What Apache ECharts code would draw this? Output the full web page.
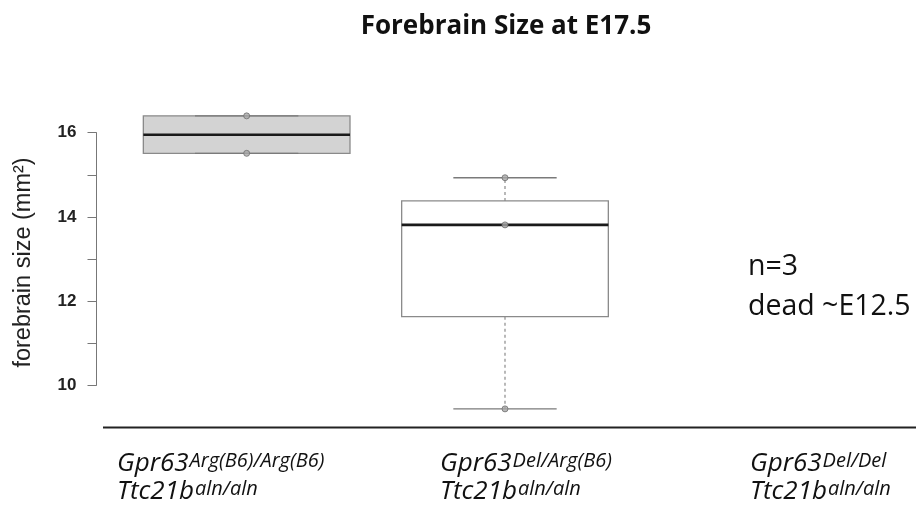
<!DOCTYPE html>
<html>
<head>
<meta charset="utf-8">
<script src="https://cdn.jsdelivr.net/npm/echarts@6/dist/echarts.min.js"></script>
<style>
  html, body { margin: 0; padding: 0; background: #fff; }
  #chart { width: 916px; height: 516px; }
</style>
</head>
<body>
<div id="chart"></div>
<script>
// ---------------- data
const categories = ['g1', 'g2', 'g3'];
const gprSup = ['Arg(B6)/Arg(B6)', 'Del/Arg(B6)', 'Del/Del'];
const ttcSup = ['aln/aln', 'aln/aln', 'aln/aln'];
// box stats for the two measured groups (third group: no data)
const lowWhisker = [15.51, 9.44];
const lowerHinge = [15.51, 11.63];
const medians = [15.95, 13.81];
const upperHinge = [16.40, 14.38];
const highWhisker = [16.40, 14.93];
// individual measurements
const group1Points = [15.51, 16.40];
const group2Points = [9.44, 13.81, 14.93];
const yLabelTicks = [10, 12, 14, 16];
const noteLines = ['n=3', 'dead ~E12.5'];

const chart = echarts.init(document.getElementById('chart'), null, { renderer: 'canvas' });

const FONT = '"Open Sans", sans-serif';
// plot geometry
const plotLeft = 117.5, plotRight = 23.5;
const pxPerUnit = 42.1;
const y16 = 132.7;

const boxData = lowWhisker.map((v, i) => [i, v, lowerHinge[i], medians[i], upperHinge[i], highWhisker[i]]);
const pointData = [];
group1Points.forEach(v => pointData.push([0, v]));
group2Points.forEach(v => pointData.push([1, v]));

function renderBox(params, api) {
    const idx = api.value(0);
    const band = api.size([1, 0])[0];
    const cx = api.coord([idx, api.value(3)])[0];
    const yLow = api.coord([idx, api.value(1)])[1];
    const yQ1 = api.coord([idx, api.value(2)])[1];
    const yMed = api.coord([idx, api.value(3)])[1];
    const yQ3 = api.coord([idx, api.value(4)])[1];
    const yHigh = api.coord([idx, api.value(5)])[1];
    const bw = band * 0.8, cw = band * 0.4;
    const grey = '#8a8a8a';
    return {
        type: 'group',
        children: [
            { type: 'rect', shape: { x: cx - bw / 2, y: yQ3, width: bw, height: yQ1 - yQ3 },
              style: { fill: idx === 0 ? '#d3d3d3' : '#ffffff', stroke: grey, lineWidth: 1.3 } },
            { type: 'line', shape: { x1: cx, y1: yQ3, x2: cx, y2: yHigh },
              style: { stroke: grey, lineWidth: 1.2, lineDash: [3, 3] } },
            { type: 'line', shape: { x1: cx, y1: yQ1, x2: cx, y2: yLow },
              style: { stroke: grey, lineWidth: 1.2, lineDash: [3, 3] } },
            { type: 'line', shape: { x1: cx - cw / 2, y1: yHigh, x2: cx + cw / 2, y2: yHigh },
              style: { stroke: '#7a7a7a', lineWidth: 1.4 } },
            { type: 'line', shape: { x1: cx - cw / 2, y1: yLow, x2: cx + cw / 2, y2: yLow },
              style: { stroke: '#7a7a7a', lineWidth: 1.4 } },
            { type: 'line', shape: { x1: cx - bw / 2, y1: yMed, x2: cx + bw / 2, y2: yMed },
              style: { stroke: '#1a1a1a', lineWidth: 2.6 } }
        ]
    };
}

const option = {
    animation: false,
    grid: [
        { left: plotLeft, right: plotRight, top: y16 - pxPerUnit, height: pxPerUnit * 8 },
        { left: plotLeft, right: plotRight, top: y16, height: pxPerUnit * 6 }
    ],
    xAxis: [
        { type: 'category', data: categories, gridIndex: 0, show: false },
        { type: 'category', data: categories, gridIndex: 1, show: false }
    ],
    yAxis: [
        { type: 'value', gridIndex: 0, min: 9, max: 17, show: false },
        {
            type: 'value', gridIndex: 1, min: 10, max: 16, interval: 1, offset: 21,
            axisLine: { show: true, lineStyle: { color: '#777', width: 1 } },
            axisTick: { show: true, length: 9, lineStyle: { color: '#777' } },
            splitLine: { show: false },
            axisLabel: {
                margin: 20, color: '#222', fontSize: 17, fontWeight: 'bold',
                fontFamily: '"Liberation Sans", Arial, sans-serif',
                formatter: v => yLabelTicks.indexOf(v) >= 0 ? String(v) : ''
            }
        }
    ],
    series: [
        {
            type: 'custom', xAxisIndex: 0, yAxisIndex: 0,
            renderItem: renderBox, data: boxData,
            encode: { x: 0, y: [1, 2, 3, 4, 5] }
        },
        {
            type: 'scatter', xAxisIndex: 0, yAxisIndex: 0, data: pointData,
            symbol: 'circle', symbolSize: 6,
            itemStyle: { color: '#a8a8a8', borderColor: '#6f6f6f', borderWidth: 1 },
            z: 5
        }
    ]
};
chart.setOption(option);

// decorations: title, axis title, baseline, genotype labels, note
const baseY = chart.convertToPixel({ yAxisIndex: 0 }, 9);
const labelLeft = [117, 440, 750];
const mainSize = 26, supSize = 20;
const ctx = document.createElement('canvas').getContext('2d');
function textWidth(str, size) {
    ctx.font = 'italic ' + size + 'px ' + FONT;
    return ctx.measureText(str).width;
}
// y is the text middle; alphabetic baseline sits ~0.388em lower for Open Sans
const mid = (baseline, size) => baseline - 0.388 * size;

const graphics = [
    { type: 'text', style: { text: 'Forebrain Size at E17.5', x: 506, y: mid(37, 26), textAlign: 'center', textVerticalAlign: 'middle',
        fontSize: 26, fontWeight: 'bold', fontFamily: FONT, fill: '#111' } },
    { type: 'text', rotation: Math.PI / 2, x: 24, y: (chart.convertToPixel({ yAxisIndex: 1 }, 10) + chart.convertToPixel({ yAxisIndex: 1 }, 16)) / 2 + 3.5,
      style: { text: 'forebrain size (mm\u00b2)', x: 0, y: 0, textAlign: 'center', textVerticalAlign: 'middle',
        fontSize: 23.5, fontFamily: '"Liberation Sans", Arial, sans-serif', fill: '#222' } },
    { type: 'line', shape: { x1: 103, y1: baseY, x2: 916, y2: baseY }, style: { stroke: '#222', lineWidth: 2 } },
    { type: 'text', style: { text: noteLines.join('\n'), x: 748, y: 247, fontSize: 28.5, lineHeight: 40,
        fontFamily: FONT, fill: '#111' } }
];

function pushLabel(x, baseline, main, sup) {
    const w = textWidth(main, mainSize);
    graphics.push({ type: 'text', style: { text: main, x: x, y: mid(baseline, mainSize), textVerticalAlign: 'middle',
        fontSize: mainSize, fontStyle: 'italic', fontFamily: FONT, fill: '#111' } });
    graphics.push({ type: 'text', style: { text: sup, x: x + w + 1, y: mid(baseline - 4.5, supSize), textVerticalAlign: 'middle',
        fontSize: supSize, fontStyle: 'italic', fontFamily: FONT, fill: '#111' } });
}
gprSup.forEach((sup, i) => {
    pushLabel(labelLeft[i], 474, 'Gpr63', sup);
    pushLabel(labelLeft[i], 501.5, 'Ttc21b', ttcSup[i]);
});
chart.setOption({ graphic: graphics });
</script>
</body>
</html>
